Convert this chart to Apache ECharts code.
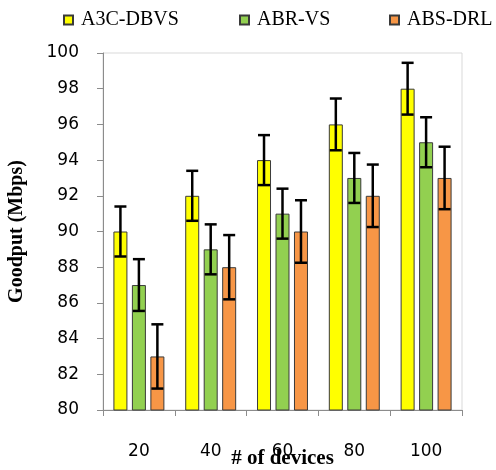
<!DOCTYPE html>
<html><head><meta charset="utf-8">
<script src="https://cdn.jsdelivr.net/npm/echarts@6/dist/echarts.min.js"></script>
<style>html,body{margin:0;padding:0;background:#fff}#c{width:496px;height:470px}</style>
</head><body><div id="c"></div>
<script>
const categories = ['20', '40', '60', '80', '100'];
const seriesNames = ['A3C-DBVS', 'ABR-VS', 'ABS-DRL'];
const a3cValues = [90, 92, 94, 96, 98];
const a3cErrors = [1.4, 1.4, 1.4, 1.45, 1.45];
const abrValues = [87, 89, 91, 93, 95];
const abrErrors = [1.45, 1.4, 1.4, 1.4, 1.4];
const absValues = [83, 88, 90, 92, 93];
const absErrors = [1.8, 1.8, 1.75, 1.75, 1.75];
const yTicks = [80, 82, 84, 86, 88, 90, 92, 94, 96, 98, 100];

const colors = ['#FFFF00', '#92D050', '#F79646'];
const values = [a3cValues, abrValues, absValues];
const errors = [a3cErrors, abrErrors, absErrors];
const BAR_W = 14, BAR_GAP = 0.32;
const chart = echarts.init(document.getElementById('c'));

function errSeries(k) {
  return {
    type: 'custom', name: seriesNames[k] + ' err', z: 10, silent: true,
    data: values[k].map((v, i) => [i, v, errors[k][i]]),
    renderItem: function (params, api) {
      const i = api.value(0), v = api.value(1), e = api.value(2);
      const off = (k - 1) * BAR_W * (1 + BAR_GAP);
      const top = api.coord([i, v + e]);
      const bot = api.coord([i, v - e]);
      const x = top[0] + off;
      const hw = 6;
      const st = { stroke: '#000', lineWidth: 2.5 };
      return { type: 'group', children: [
        { type: 'line', shape: { x1: x, y1: top[1], x2: x, y2: bot[1] }, style: st },
        { type: 'line', shape: { x1: x - hw, y1: top[1], x2: x + hw, y2: top[1] }, style: st },
        { type: 'line', shape: { x1: x - hw, y1: bot[1], x2: x + hw, y2: bot[1] }, style: st }
      ]};
    }
  };
}

const legendPos = [63, 239, 389];
const legends = seriesNames.map((n, k) => ({
  data: [n], left: legendPos[k], top: 10, padding: 0, icon: 'rect', itemWidth: 9, itemHeight: 9,
  textStyle: { fontFamily: 'Liberation Serif', fontSize: 20, color: '#000', padding: [0, 0, 0, 3] },
  selectedMode: false
}));

const bars = seriesNames.map((n, k) => ({
  type: 'bar', name: n, data: values[k], barWidth: BAR_W, barGap: (BAR_GAP * 100) + '%',
  itemStyle: { color: colors[k], borderColor: '#3a3a3a', borderWidth: 1 }
}));

chart.setOption({
  animation: false,
  legend: legends,
  grid: { left: 103, right: 34, top: 53, bottom: 60, show: true, borderColor: '#d9d9d9', borderWidth: 1, containLabel: false, outerBoundsMode: 'none' },
  xAxis: {
    type: 'category', data: categories,
    name: '# of devices', nameLocation: 'middle', nameGap: 38, nameMoveOverlap: false,
    nameTextStyle: { fontFamily: 'Liberation Serif', fontWeight: 'bold', fontSize: 21, color: '#000' },
    axisLine: { lineStyle: { color: '#8c8c8c', width: 1 } },
    axisTick: { show: true, length: 6, alignWithLabel: false, lineStyle: { color: '#8c8c8c' } },
    axisLabel: { margin: 33, fontFamily: 'DejaVu Sans', fontSize: 17, color: '#000' }
  },
  yAxis: {
    type: 'value', min: yTicks[0], max: yTicks[yTicks.length - 1], interval: yTicks[1] - yTicks[0],
    name: 'Goodput (Mbps)', nameLocation: 'middle', nameGap: 76, nameMoveOverlap: false,
    nameTextStyle: { fontFamily: 'Liberation Serif', fontWeight: 'bold', fontSize: 20, color: '#000' },
    axisLine: { show: true, lineStyle: { color: '#8c8c8c', width: 1 } },
    axisTick: { show: true, length: 6, lineStyle: { color: '#8c8c8c' } },
    splitLine: { show: false },
    axisLabel: { margin: 24, fontFamily: 'DejaVu Sans', fontSize: 17, color: '#000' }
  },
  series: bars.concat([errSeries(0), errSeries(1), errSeries(2)])
});
</script></body></html>
